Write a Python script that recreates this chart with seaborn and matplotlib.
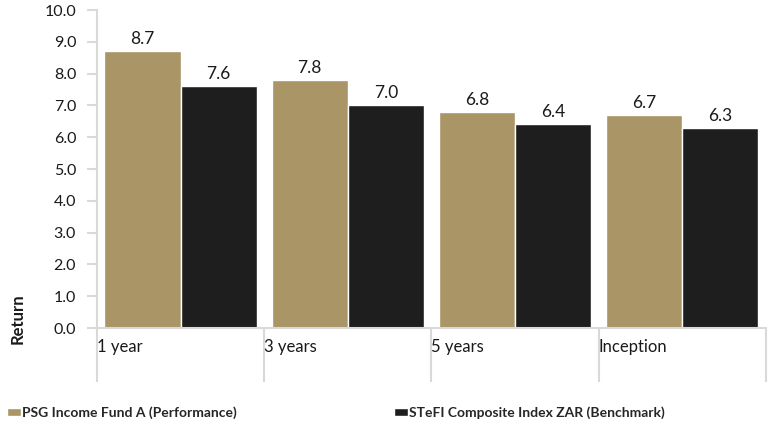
import pandas as pd
import seaborn as sns
import matplotlib.pyplot as plt

periods = ["1 year", "3 years", "5 years", "Inception"]
fund = [8.7, 7.8, 6.8, 6.7]
bench = [7.6, 7.0, 6.4, 6.3]
series = ["PSG Income Fund A (Performance)", "STeFI Composite Index ZAR (Benchmark)"]
colors = ["#A99566", "#1E1E1E"]

df = pd.DataFrame({
    "Period": periods * 2,
    "Return": fund + bench,
    "Series": [series[0]] * 4 + [series[1]] * 4,
})

sns.set_style("white")
plt.rcParams["font.family"] = ["Lato", "DejaVu Sans"]

fig = plt.figure(figsize=(7.72, 4.28), dpi=100)
ax = fig.add_axes([0.1256, 0.2336, 0.8664, 0.743])

sns.barplot(data=df, x="Period", y="Return", hue="Series", palette=colors,
            width=0.91, edgecolor="white", linewidth=1, saturation=1, ax=ax)

for c in ax.containers:
    ax.bar_label(c, fmt="%.1f", padding=3, fontsize=12.5, color="#1a1a1a")

ax.set_ylim(0, 10)
ax.set_xlim(-0.5, 3.5)
ax.set_yticks(range(0, 11))
ax.set_yticklabels([f"{v:.1f}" for v in range(0, 11)], fontsize=11.5, color="#1a1a1a")
ax.tick_params(axis="y", length=7, width=1.5, color="#D9D9D9", pad=8, left=True)

# category separators drawn as long x ticks, labels left aligned
ax.set_xticks([-0.5, 0.5, 1.5, 2.5, 3.5])
ax.set_xticklabels(periods + [""], fontsize=12, color="#1a1a1a", ha="left")
ax.tick_params(axis="x", length=39, width=1.5, color="#D9D9D9", pad=-31, bottom=True)
ax.set_xlabel("")

for s in ["top", "right"]:
    ax.spines[s].set_visible(False)
for s in ["left", "bottom"]:
    ax.spines[s].set_color("#D9D9D9")
    ax.spines[s].set_linewidth(1.5)

ax.set_ylabel("Return", fontsize=12, fontweight="bold", color="#1a1a1a")
ax.yaxis.set_label_coords(-0.106, 0.03)

handles, labels = ax.get_legend_handles_labels()
ax.get_legend().remove()
for h, l, x in zip(handles, labels, [0.009, 0.51]):
    fig.legend([h], [l], loc="center left", bbox_to_anchor=(x, 0.036), frameon=False,
               prop={"size": 10, "weight": "bold"}, handlelength=1.0, handleheight=0.55,
               handletextpad=0.1, borderaxespad=0, borderpad=0)

plt.savefig("out.png", dpi=100)
